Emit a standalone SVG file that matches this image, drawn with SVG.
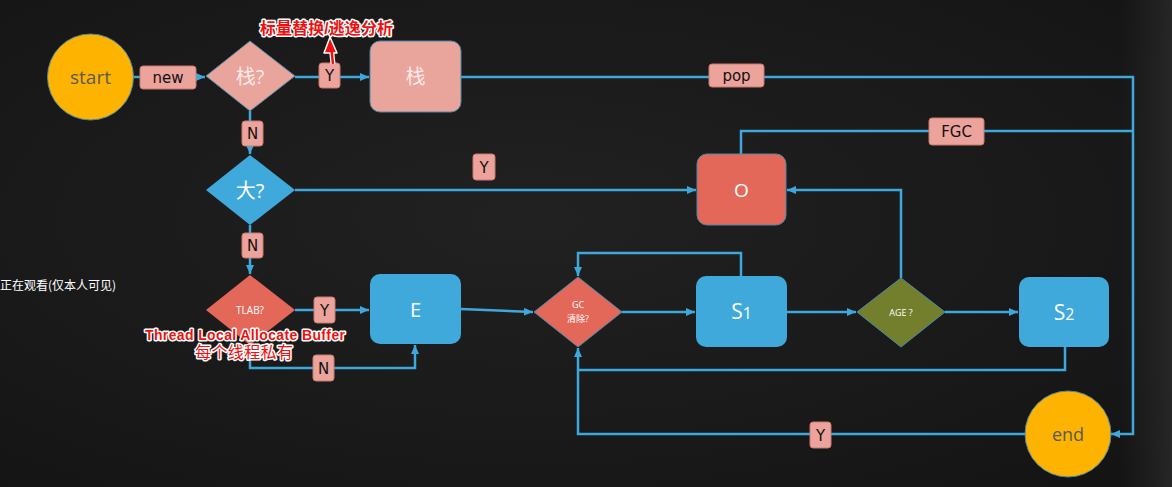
<svg xmlns="http://www.w3.org/2000/svg" width="1172" height="487" viewBox="0 0 1172 487">
<defs>
<radialGradient id="bg" cx="0.45" cy="0.45" r="0.75">
<stop offset="0" stop-color="#212121"/>
<stop offset="1" stop-color="#141414"/>
</radialGradient>
<linearGradient id="edge" x1="0" y1="0" x2="1" y2="0">
<stop offset="0" stop-color="#2a2a2a" stop-opacity="0"/>
<stop offset="1" stop-color="#2e2e2e" stop-opacity="0.7"/>
</linearGradient>
<marker id="ah" markerWidth="10" markerHeight="10" refX="9" refY="5" orient="auto" markerUnits="userSpaceOnUse">
<path d="M0,1 L9,5 L0,9 Z" fill="#3ea8dc"/>
</marker>
</defs>
<style>
.c{fill:none;stroke:#3ea8dc;stroke-width:2.5}
.lb{fill:#eca39b;stroke:#c97a70;stroke-width:1}
.lt{font-family:"DejaVu Sans","Noto Sans",sans-serif;font-size:15px;fill:#111;text-anchor:middle}
.nt{font-family:"Open Sans","Noto Sans CJK SC",sans-serif;fill:#fff;text-anchor:middle}
.ann{font-family:"Liberation Sans","Noto Sans CJK SC",sans-serif;font-weight:bold;fill:#ee1111;stroke:#fff;stroke-width:3;paint-order:stroke;stroke-linejoin:round}
</style>
<rect width="1172" height="487" fill="url(#bg)"/>
<rect x="1120" y="0" width="52" height="487" fill="url(#edge)"/>

<g id="connectors">
<line class="c" x1="133" y1="77" x2="205" y2="77" marker-end="url(#ah)"/>
<line class="c" x1="295" y1="77" x2="369" y2="77" marker-end="url(#ah)"/>
<polyline class="c" points="461,77 1133,77 1133,434 1111,434" marker-end="url(#ah)"/>
<polyline class="c" points="741,154 741,131 1133,131"/>
<line class="c" x1="250" y1="111" x2="250" y2="154" marker-end="url(#ah)"/>
<line class="c" x1="295" y1="190" x2="696" y2="190" marker-end="url(#ah)"/>
<line class="c" x1="250" y1="225" x2="250" y2="274" marker-end="url(#ah)"/>
<line class="c" x1="295" y1="310" x2="369" y2="310" marker-end="url(#ah)"/>
<polyline class="c" points="250,345 250,368 415,368 415,345" marker-end="url(#ah)"/>
<line class="c" x1="461" y1="309" x2="533" y2="312" marker-end="url(#ah)"/>
<line class="c" x1="622" y1="312" x2="695" y2="312" marker-end="url(#ah)"/>
<polyline class="c" points="741,276 741,253 578,253 578,276" marker-end="url(#ah)"/>
<line class="c" x1="787" y1="312" x2="856" y2="312" marker-end="url(#ah)"/>
<polyline class="c" points="901,278 901,190 787,190" marker-end="url(#ah)"/>
<line class="c" x1="945" y1="312" x2="1018" y2="312" marker-end="url(#ah)"/>
<polyline class="c" points="1065,347 1065,370 578,370"/>
<polyline class="c" points="1025,434 578,434 578,348" marker-end="url(#ah)"/>

<rect class="lb" x="140" y="66" width="56" height="23" rx="3"/>
<text class="lt" x="168" y="83">new</text>
<rect class="lb" x="319" y="63" width="21" height="25" rx="3"/>
<text class="lt" x="329.5" y="81">Y</text>
<rect class="lb" x="242" y="121" width="21" height="25" rx="3"/>
<text class="lt" x="252.5" y="139">N</text>
<rect class="lb" x="709" y="64" width="55" height="23" rx="3"/>
<text class="lt" x="736.5" y="81">pop</text>
<rect class="lb" x="929" y="118" width="55" height="27" rx="3"/>
<text class="lt" x="956.5" y="137">FGC</text>
<rect class="lb" x="473" y="154" width="22" height="26" rx="3"/>
<text class="lt" x="484" y="173">Y</text>
<rect class="lb" x="242" y="233" width="21" height="25" rx="3"/>
<text class="lt" x="252.5" y="251">N</text>
<rect class="lb" x="314" y="297" width="21" height="26" rx="3"/>
<text class="lt" x="324.5" y="316">Y</text>
<rect class="lb" x="313" y="355" width="21" height="26" rx="3"/>
<text class="lt" x="323.5" y="374">N</text>
<rect class="lb" x="810" y="422" width="21" height="26" rx="3"/>
<text class="lt" x="820.5" y="441">Y</text>
</g>

<g id="start">
<circle cx="90.5" cy="77" r="43" fill="#fdb300" stroke="#4a8aa8" stroke-width="1"/>
<text class="nt" x="90.5" y="84" font-size="19" style="fill:#5a5a5a">start</text>
</g>
<g id="stackq">
<polygon points="250,41 295,76 250,111 206,76" fill="#e9a49c" stroke="#4a8aa8" stroke-width="1"/>
<text class="nt" x="250" y="84" font-size="20" style="fill:#fbeae7">栈?</text>
</g>
<g id="stack">
<rect x="370" y="41" width="91" height="71" rx="10" fill="#e9a49c" stroke="#4a8aa8" stroke-width="1"/>
<text class="nt" x="415.5" y="84" font-size="20" style="fill:#fbeae7">栈</text>
</g>
<g id="bigq">
<polygon points="250,155 295,190 250,225 206,190" fill="#3fa9dc"/>
<text class="nt" x="250" y="198" font-size="20">大?</text>
</g>
<g id="old">
<rect x="697" y="154" width="89" height="71" rx="10" fill="#e4685a" stroke="#4a8aa8" stroke-width="1"/>
<text class="nt" x="741.5" y="197" font-size="19">O</text>
</g>
<g id="tlab">
<polygon points="250,275 295,310 250,345 206,310" fill="#e4685a"/>
<text class="nt" x="250" y="314" font-size="10">TLAB?</text>
</g>
<g id="eden">
<rect x="370" y="274" width="91" height="70" rx="10" fill="#3fa9dc"/>
<text class="nt" x="415.5" y="317" font-size="20">E</text>
</g>
<g id="gc">
<polygon points="578,277 622,312 578,347 534,312" fill="#e4685a" stroke="#4a8aa8" stroke-width="1"/>
<text class="nt" x="578" y="308" font-size="9">GC</text>
<text class="nt" x="578" y="322" font-size="9">清除?</text>
</g>
<g id="s1">
<rect x="696" y="276" width="91" height="71" rx="10" fill="#3fa9dc"/>
<text class="nt" x="741.5" y="319" font-size="21">S<tspan font-size="16">1</tspan></text>
</g>
<g id="age">
<polygon points="901,278 945,312 901,347 857,312" fill="#737f2c" stroke="#4a8aa8" stroke-width="1"/>
<text class="nt" x="901" y="316" font-size="9">AGE ?</text>
</g>
<g id="s2">
<rect x="1019" y="277" width="90" height="70" rx="10" fill="#3fa9dc"/>
<text class="nt" x="1064" y="320" font-size="21">S<tspan font-size="16">2</tspan></text>
</g>
<g id="end">
<circle cx="1068" cy="434" r="43" fill="#fdb300" stroke="#4a8aa8" stroke-width="1"/>
<text class="nt" x="1068" y="441" font-size="18" style="fill:#5a5a5a">end</text>
</g>

<g id="annotations">
<text class="ann" x="260" y="34" font-size="16" textLength="133">标量替换/逃逸分析</text>
<line x1="333" y1="64" x2="331.5" y2="50" stroke="#fff" stroke-width="5"/>
<polygon points="330,37 337,53 324,53" fill="#ee1111" stroke="#fff" stroke-width="1.5" stroke-linejoin="round"/>
<line x1="333" y1="64" x2="331.5" y2="50" stroke="#ee1111" stroke-width="2.5"/>
<text class="ann" x="145" y="340" font-size="14" textLength="200">Thread Local Allocate Buffer</text>
<text class="ann" x="195" y="358" font-size="16" textLength="98" style="font-weight:normal">每个线程私有</text>
<text x="0" y="290" font-family="'Noto Sans CJK SC',sans-serif" font-size="12" fill="#fff">正在观看(仅本人可见)</text>
</g>
</svg>
